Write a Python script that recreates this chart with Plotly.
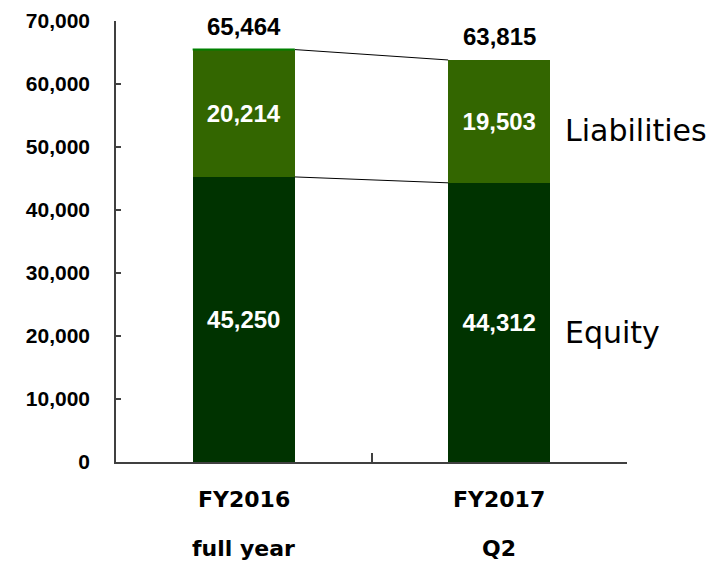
import plotly.graph_objects as go

periods = ["FY2016", "FY2017"]
period_sub = ["full year", "Q2"]
equity = [45250, 44312]
liabilities = [20214, 19503]
totals = [65464, 63815]
series_names = ["Equity", "Liabilities"]
y_ticks = [0, 10000, 20000, 30000, 40000, 50000, 60000, 70000]

x = list(range(len(periods)))
bw = 0.4
c_eq = "#003300"
c_li = "#336600"
num_font = "Liberation Sans, Arial, sans-serif"
label_font = "DejaVu Sans, Verdana, sans-serif"

fig = go.Figure()
fig.add_bar(x=x, y=equity, width=bw, marker=dict(color=c_eq, line=dict(width=0)),
            name=series_names[0], text=[f"<b>{v:,}</b>" for v in equity], textposition="inside",
            insidetextanchor="middle", textangle=0,
            textfont=dict(family=num_font, size=24, color="white"))
fig.add_bar(x=x, y=liabilities, width=bw, marker=dict(color=c_li, line=dict(width=0)),
            name=series_names[1], text=[f"<b>{v:,}</b>" for v in liabilities], textposition="inside",
            insidetextanchor="middle", textangle=0,
            textfont=dict(family=num_font, size=24, color="white"))

# connector lines between bars
for vals in (equity, totals):
    fig.add_scatter(x=[x[0] + bw / 2, x[1] - bw / 2], y=[vals[0], vals[1]], mode="lines",
                    line=dict(color="black", width=1), hoverinfo="skip", showlegend=False)

# thin highlight on top of first bar
fig.add_shape(type="line", x0=x[0] - bw / 2, x1=x[0] + bw / 2, y0=totals[0], y1=totals[0],
              line=dict(color="#008000", width=2))

for i, t in enumerate(totals):
    fig.add_annotation(x=x[i], y=t, text=f"<b>{t:,}</b>", showarrow=False, yanchor="bottom", yshift=8,
                       font=dict(family=num_font, size=24, color="black"))
    fig.add_annotation(x=x[i], y=0, text=f"<b>{periods[i]}</b>", showarrow=False, yanchor="middle",
                       yshift=-37, font=dict(family=label_font, size=22, color="black"))
    fig.add_annotation(x=x[i], y=0, text=f"<b>{period_sub[i]}</b>", showarrow=False, yanchor="middle",
                       yshift=-86, font=dict(family=label_font, size=22, color="black"))

fig.add_annotation(x=x[1] + bw / 2, y=equity[1] + liabilities[1] / 2, text=series_names[1],
                   showarrow=False, xanchor="left", xshift=13, yshift=-9,
                   font=dict(family=label_font, size=30, color="black"))
fig.add_annotation(x=x[1] + bw / 2, y=equity[1] / 2, text=series_names[0],
                   showarrow=False, xanchor="left", xshift=13, yshift=-10,
                   font=dict(family=label_font, size=30, color="black"))

fig.update_layout(
    barmode="stack", width=716, height=555, showlegend=False,
    paper_bgcolor="white", plot_bgcolor="white",
    margin=dict(l=108, r=97, t=13, b=101),
    xaxis=dict(range=[-0.5, 1.5], tickvals=[-0.5, 0.5, 1.5], ticktext=["", "", ""],
               ticks="inside", ticklen=9, tickcolor="#404040", tickwidth=1.5, automargin=False,
               showline=True, linecolor="#404040", linewidth=1.5, showgrid=False, zeroline=False),
    yaxis=dict(range=[0, 70000], tickvals=y_ticks, automargin=False,
               ticktext=[f"<b>{v:,}</b>" for v in y_ticks], ticks="inside", ticklen=5,
               tickcolor="#404040", tickwidth=1.5, showline=True, linecolor="#404040", linewidth=1.5,
               showgrid=False, zeroline=False, ticklabelstandoff=20,
               tickfont=dict(family=num_font, size=21, color="black")),
)
fig.write_html("out.html")
